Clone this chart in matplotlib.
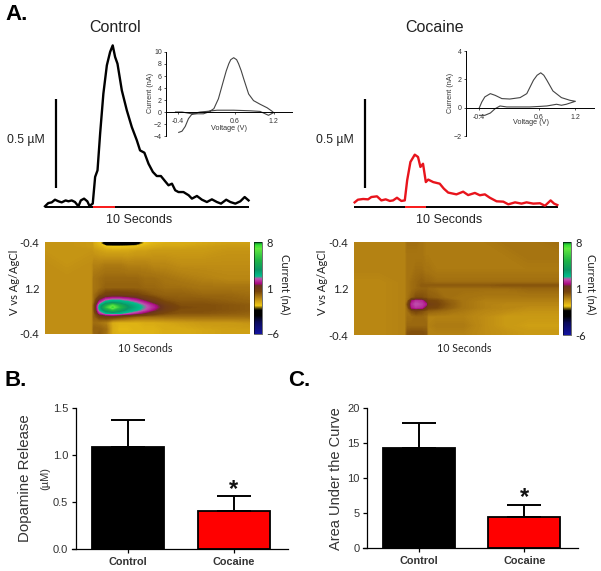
import numpy as np
import matplotlib
matplotlib.use('Agg')
import matplotlib.pyplot as plt
from matplotlib.colors import LinearSegmentedColormap, Normalize
from matplotlib.cm import ScalarMappable

W, H = 601, 571
plt.rcParams['font.family'] = ['Liberation Sans', 'DejaVu Sans']

# dopamine traces, seconds vs uM
ctrl_t = [0, 1.5, 3.1, 4.6, 6.2, 7.7, 9.5, 10.8, 12.3, 13.8, 15.4, 16.5, 18, 19.5, 20.5, 22, 23.1, 24.2,
          25.4, 26.9, 28.5, 30, 31.2, 32.3, 33.4, 35.4, 37.7, 40, 42.3, 43.8, 45.8, 47.7, 49.7, 51.5, 53.4,
          55.4, 56.9, 58.5, 60, 61.5, 63.8, 66.2, 67.7, 70, 72.3, 74.6, 76.9, 79.2, 81.1, 83.5, 85.4, 87.7,
          90, 92, 93.8]
ctrl_um = [.004, .022, .026, .041, .032, .026, .037, .032, .037, .028, .004, .037, .047, .032, .006, .019,
           .169, .206, .412, .637, .796, .871, .908, .843, .805, .655, .543, .449, .375, .318, .305, .243,
           .197, .174, .174, .144, .122, .131, .094, .084, .084, .066, .047, .062, .041, .028, .043, .028,
           .019, .041, .028, .019, .032, .056, .037]
coc_t = [.3, 1.8, 4.2, 6.5, 8, 10.6, 12.6, 14.6, 16.5, 18, 19.8, 21.8, 23.4, 24.5, 26, 28, 29.5, 30.6, 31.8,
         33.1, 34.2, 36.5, 39.5, 41.4, 43.4, 47.2, 50.3, 52.6, 55.7, 58, 60.3, 62.6, 65.7, 68.8, 71.1, 74.2,
         77.2, 79.5, 82.6, 85.7, 88, 90.6, 92.2, 93.7]
coc_um = [.026, .041, .045, .043, .056, .06, .037, .043, .034, .037, .052, .034, .037, .15, .253, .294, .281,
          .225, .243, .14, .154, .14, .131, .103, .081, .071, .086, .067, .079, .066, .071, .052, .032, .03,
          .015, .026, .019, .026, .019, .021, .007, .037, .019, .011]
trace_end = 94
ctrl_stim = [22.3, 32.3]
coc_stim = [23.7, 33]
ctrl_scale_t, coc_scale_t = 5, 5
scale_um = [.109, .609]

# inset voltammograms, volts vs nA
ctrl_cv_v = [-.26, -.21, -.16, -.11, -.06, .02, .12, .2, .28, .35, .43, .47, .51, .54, .585, .63, .66, .70, .74,
             .815, .89, .99, 1.1, 1.17, 1.2, 1.12, 1.07, .99, .84, .585, .33, .17, .07, -.06, -.21, -.31]
ctrl_cv_na = [-3.4, -3.2, -2.4, -1.1, -.4, -.3, -.3, 0, .55, 2.2, 5.3, 6.83, 8.05, 8.72, 9.05, 8.72, 8.05, 6.9, 5.5,
              3, 1.9, 1.3, .7, .17, -.1, -.55, -.3, .1, .2, .3, .3, .1, 0, -.3, 0, 0]
coc_cv_v = [-.38, -.34, -.29, -.2, -.12, -.01, .12, .29, .4, .51, .57, .63, .68, .73, .83, .97, 1.11, 1.2, 1.05,
            .97, .89, .73, .62, .45, .23, .07, -.04, -.12, -.2, -.29, -.38]
coc_cv_na = [0, .4, .76, .99, .87, .64, .61, .71, .99, 1.94, 2.29, 2.46, 2.29, 1.94, 1.18, .71, .52, .45, .24,
             .17, .24, .12, .09, .05, .05, .05, .12, -.07, -.38, -.54, -.54]

# colour plots, current in nA on (sweep position, seconds)
ctrl_map_t = [0, 10, 21.5, 22.5, 25, 28, 31, 34, 38, 42, 46, 50, 55, 62, 72, 84, 94]
ctrl_map_s = [0, .05, .1, .2, .5, .8, 1.0, 1.15, 1.25, 1.32, 1.38, 1.42, 1.47, 1.54, 1.62, 1.75, 1.9, 2]
ctrl_map_na = [
    [-.8, -.8, -.9, -1.2, -1.5, -3, -3.2, -3.2, -3.2, -3, -1.6, -1.3, -1.3, -1.2, -1.1, -1, -1],
    [-.8, -.8, -.9, -1.2, -1.4, -3, -3.2, -3.2, -3, -2.6, -1.5, -1.3, -1.2, -1.2, -1.1, -1, -1],
    [-.8, -.8, -.9, -1.1, -1.3, -1.6, -1.7, -1.7, -1.6, -1.5, -1.3, -1.2, -1.1, -1.1, -1, -.9, -.9],
    [-.8, -.8, -.8, -.9, -1, -1.1, -1.1, -1.1, -1.1, -1, -1, -.9, -.9, -.9, -.9, -.8, -.8],
    [-.7, -.8, -.7, -.5, -.5, -.4, -.4, -.4, -.5, -.5, -.5, -.6, -.6, -.7, -.7, -.7, -.7],
    [-.7, -.7, -.7, -.3, -.2, -.1, -.1, -.1, -.1, -.1, -.2, -.2, -.3, -.4, -.5, -.6, -.6],
    [-.7, -.7, -.7, -.3, -.2, 0, 0, 0, 0, 0, -.1, -.1, -.2, -.2, -.3, -.3, -.3],
    [-.7, -.7, -.7, -.2, .2, .6, .7, .7, .6, .5, .3, .1, 0, 0, -.1, -.1, -.2],
    [-.7, -.7, -.7, -.2, 1.2, 2.1, 2.4, 2.4, 2.1, 1.7, 1, .6, .2, .1, .1, 0, -.1],
    [-.7, -.7, -.7, -.1, 2, 3.2, 3.6, 3.4, 3, 2.5, 1.9, 1.1, .5, .2, .2, .1, 0],
    [-.7, -.7, -.7, .2, 2.8, 4.8, 6.5, 5, 3.6, 3, 2.4, 1.8, .8, .3, .3, .2, .1],
    [-.7, -.7, -.7, .2, 3, 5.5, 7.5, 5.5, 3.8, 3.1, 2.5, 1.9, .9, .4, .3, .2, .1],
    [-.7, -.7, -.7, .2, 2.8, 4.5, 5.5, 4.5, 3.4, 2.9, 2.3, 1.6, .8, .3, .3, .2, .1],
    [-.7, -.7, -.7, 0, 2, 2.9, 3.2, 3, 2.5, 2, 1.4, .8, .4, .2, .2, .1, 0],
    [-.7, -.7, -.7, 0, .5, .7, .7, .5, .2, -.1, -.2, -.2, -.2, -.2, -.2, -.2, -.2],
    [-.7, -.7, -.7, -.2, -.3, -.5, -1.2, -1.3, -1.3, -1.3, -1.2, -1.2, -1.1, -1, -.9, -.9, -.8],
    [-.7, -.7, -.7, 0, 0, -.2, -1.2, -1.4, -1.4, -1.3, -1.3, -1.3, -1.2, -1.2, -1.1, -1, -1],
    [-.7, -.7, -.7, -.1, .1, -.3, -1.2, -1.3, -1.3, -1.3, -1.3, -1.3, -1.2, -1.2, -1.1, -1, -1],
]
coc_map_t = [0, 12, 23.5, 24.5, 26.5, 28.5, 31, 33, 34, 38, 42, 50, 60, 70, 80, 94]
coc_map_s = [0, .3, .6, .86, .93, 1.0, 1.2, 1.27, 1.34, 1.41, 1.48, 1.6, 1.8, 1.95, 2]
coc_map_na = [
    [-.5, -.5, -.5, -.2, -.2, -.2, -.3, -.4, -.4, -.4, -.4, -.4, -.4, -.3, -.3, -.2],
    [-.5, -.5, -.5, -.3, -.3, -.3, -.3, -.4, -.4, -.4, -.4, -.4, -.4, -.4, -.3, -.3],
    [-.5, -.5, -.5, -.3, -.3, -.2, -.2, -.3, -.3, -.4, -.4, -.4, -.4, -.4, -.4, -.4],
    [-.6, -.6, -.5, -.3, -.2, -.1, 0, -.1, -.1, -.2, -.2, -.2, -.2, -.2, -.2, -.2],
    [-.6, -.6, -.5, -.3, -.2, -.1, .1, .1, .1, .1, .1, .1, .1, .2, .2, .2],
    [-.6, -.6, -.5, -.3, -.2, -.1, 0, 0, -.1, -.2, -.2, -.2, -.2, -.2, -.1, -.1],
    [-.6, -.6, -.5, -.3, 0, .3, .3, .2, .1, 0, -.2, -.3, -.4, -.4, -.4, -.4],
    [-.6, -.6, -.5, -.2, 1.6, 2.1, 2, 1, .5, .4, .1, -.3, -.5, -.5, -.5, -.5],
    [-.6, -.6, -.5, .2, 2, 2.35, 2.2, 1.8, .8, .5, .2, -.3, -.5, -.6, -.6, -.6],
    [-.6, -.6, -.5, -.1, 1.8, 2.1, 2, 1, .5, .4, .1, -.3, -.5, -.6, -.7, -.7],
    [-.6, -.6, -.5, -.2, .3, .5, .3, .1, 0, -.1, -.2, -.4, -.6, -.7, -.8, -.8],
    [-.6, -.6, -.5, -.2, -.2, -.1, -.1, -.2, -.5, -.5, -.5, -.5, -.7, -.9, -.9, -.9],
    [-.6, -.6, -.5, -.1, -.1, -.1, -.1, -.1, -.5, -.4, -.4, -.4, -.7, -.9, -1, -1],
    [-.6, -.6, -.5, .2, .3, .3, .3, .2, -.5, -.5, -.5, -.5, -.7, -.8, -.9, -.9],
    [-.6, -.6, -.5, .2, .3, .3, .3, .2, -.5, -.5, -.5, -.5, -.7, -.8, -.9, -.9],
]

# bar panels
groups = ['Control', 'Cocaine']
bar_colors = ['black', '#ff0000']
release_mean = [1.09, 0.40]
release_err = [0.28, 0.167]
auc_mean = [14.3, 4.4]
auc_err = [3.6, 1.75]

# false colour map used by the voltammetry plots
cmap_stops = [(0, '#006428'), (.03, '#30e030'), (.07, '#60e840'), (.2, '#1eb446'), (.3, '#0a9664'),
              (.37, '#00be8c'), (.385, '#6a8a96'), (.40, '#c050b0'), (.45, '#aa0a82'), (.475, '#6a3420'),
              (.54, '#78460a'), (.62, '#be8c14'), (.69, '#f0c814'), (.74, '#000000'), (.8, '#000000'),
              (.87, '#0a0a5a'), (1, '#1414a0')]
fscv_cmap = LinearSegmentedColormap.from_list('fscv', [(1 - f, c) for f, c in reversed(cmap_stops)], N=512)
fscv_norm = Normalize(-6, 8)


fig = plt.figure(figsize=(W / 100, H / 100), dpi=100)


def px_axes(left, top, right, bottom):
    return fig.add_axes([left / W, 1 - bottom / H, (right - left) / W, (bottom - top) / H])


def px_text(x, y, s, **kw):
    kw.setdefault('ha', 'center')
    kw.setdefault('va', 'center')
    fig.text(x / W, 1 - y / H, s, **kw)


def draw_trace(box, t, um, color, stim, scale_t):
    ax = px_axes(*box)
    ax.plot([0, trace_end], [0, 0], color='black', lw=1.4, clip_on=False, solid_capstyle='butt')
    ax.plot(stim, [0, 0], color='#ff2020', lw=1.4, clip_on=False, solid_capstyle='butt')
    ax.plot(t, um, color=color, lw=1.7, clip_on=False, solid_joinstyle='round')
    ax.plot([scale_t, scale_t], scale_um, color='black', lw=1.6, solid_capstyle='butt')
    ax.set_xlim(0, trace_end)
    ax.set_ylim(0, 1)
    ax.axis('off')


def draw_inset(box, v, na, xlim, ylim, xticks, xlabels, yticks):
    ax = px_axes(*box)
    ax.plot(v, na, color='#444444', lw=0.8, clip_on=False)
    ax.set_xlim(*xlim)
    ax.set_ylim(*ylim)
    for s in ['top', 'right']:
        ax.spines[s].set_visible(False)
    ax.spines['bottom'].set_position(('data', 0))
    ax.spines['bottom'].set_linewidth(0.7)
    ax.spines['left'].set_linewidth(0.7)
    ax.set_xticks(xticks)
    ax.set_xticklabels(xlabels)
    ax.set_yticks(yticks)
    ax.tick_params(axis='both', labelsize=5, length=1.5, width=0.6, pad=1.5, colors='#333333')
    ax.tick_params(axis='x', pad=3)


def draw_map(box, cbar_box, t, s, na):
    ax = px_axes(*box)
    ax.contourf(t, s, na, levels=np.linspace(-6, 8, 561), cmap=fscv_cmap, norm=fscv_norm)
    ax.set_xlim(0, trace_end)
    ax.set_ylim(2, 0)
    ax.set_xticks([])
    ax.set_yticks([0, 1, 2])
    ax.set_yticklabels(['-0.4', '1.2', '-0.4'], fontfamily='Lato', fontsize=8)
    ax.tick_params(axis='y', length=0, pad=4, colors='#222222')
    for sp in ax.spines.values():
        sp.set_visible(False)
    cax = px_axes(*cbar_box)
    cb = fig.colorbar(ScalarMappable(norm=fscv_norm, cmap=fscv_cmap), cax=cax, ticks=[8, 1, -6])
    cb.outline.set_linewidth(0.4)
    cb.ax.set_yticklabels(['8', '1', '-6'], fontfamily='Lato', fontsize=8)
    cb.ax.tick_params(length=0, pad=3, colors='#222222')


def draw_bars(box, means, errs, ylim, yticks, yticklabels, star_y):
    ax = px_axes(*box)
    x = np.arange(len(groups))
    ax.bar(x, means, width=0.68, color=bar_colors, edgecolor='black', linewidth=1.3)
    ax.errorbar(x, means, yerr=[[0, 0], errs], fmt='none', ecolor='black', elinewidth=1.4,
                capsize=12.5, capthick=1.4)
    ax.text(1, star_y, '*', ha='center', va='center', fontsize=17, fontweight='bold', color='#111111')
    ax.set_xlim(-.49, 1.51)
    ax.set_ylim(*ylim)
    ax.set_xticks(x)
    ax.set_xticklabels(groups, fontsize=7.8, fontweight='bold', color='#333333')
    ax.set_yticks(yticks)
    ax.set_yticklabels(yticklabels, fontsize=8, color='#333333')
    ax.tick_params(axis='both', length=3, width=0.9, pad=2.5)
    ax.tick_params(axis='x', pad=2.5)
    for s in ['top', 'right']:
        ax.spines[s].set_visible(False)
    ax.spines['left'].set_linewidth(0.9)
    ax.spines['bottom'].set_linewidth(0.9)
    ax.spines['bottom'].set_bounds(-.53, 1.51)


# Panel A traces
draw_trace((45, 29, 249, 207), ctrl_t, ctrl_um, 'black', ctrl_stim, ctrl_scale_t)
draw_trace((354, 29, 558, 207), coc_t, coc_um, '#e8141c', coc_stim, coc_scale_t)
draw_inset((166, 52, 292, 136), ctrl_cv_v, ctrl_cv_na, (-.456, 1.482), (-4, 10),
           [-.27, .6, 1.2], ['-0.4', '0.6', '1.2'], [-4, -2, 0, 2, 4, 6, 8, 10])
draw_inset((466, 51, 594, 136), coc_cv_v, coc_cv_na, (-.6, 1.506), (-2, 4),
           [-.39, .6, 1.2], ['-0.4', '0.6', '1.2'], [-2, 0, 2, 4])

# Panel A colour plots
draw_map((45, 242, 250, 334), (254, 242, 262, 334), ctrl_map_t, ctrl_map_s, ctrl_map_na)
draw_map((354, 242, 559, 335), (563, 242, 571, 335), coc_map_t, coc_map_s, coc_map_na)

# Panels B and C
draw_bars((76, 408, 288, 549), release_mean, release_err, (0, 1.5), [0, .5, 1, 1.5],
          ['0.0', '0.5', '1.0', '1.5'], 0.63)
draw_bars((367, 408, 578, 548), auc_mean, auc_err, (0, 20), [0, 5, 10, 15, 20],
          ['0', '5', '10', '15', '20'], 7.2)

# free labels
px_text(5, 14, 'A.', ha='left', fontsize=16, fontweight='bold')
px_text(5, 380, 'B.', ha='left', fontsize=16, fontweight='bold')
px_text(288, 380, 'C.', ha='left', fontsize=16, fontweight='bold')
px_text(115, 27, 'Control', fontsize=11.5, color='#222222')
px_text(435, 27, 'Cocaine', fontsize=11.5, color='#222222')
px_text(26, 140, '0.5 µM', fontsize=8.8, color='#222222')
px_text(335, 140, '0.5 µM', fontsize=8.8, color='#222222')
px_text(139, 220, '10 Seconds', fontsize=9, color='#222222')
px_text(449, 220, '10 Seconds', fontsize=9, color='#222222')

px_text(229, 128, 'Voltage (V)', fontsize=5.2, color='#333333')
px_text(151, 93, 'Current (nA)', fontsize=5.2, rotation=90, color='#333333')
px_text(531, 123, 'Voltage (V)', fontsize=5.2, color='#333333')
px_text(451, 93, 'Current (nA)', fontsize=5.2, rotation=90, color='#333333')

px_text(15, 282, 'V vs Ag/AgCl', fontsize=8, rotation=90, fontfamily='Lato', color='#222222')
px_text(322, 282, 'V vs Ag/AgCl', fontsize=8, rotation=90, fontfamily='Lato', color='#222222')
px_text(145, 349, '10 Seconds', fontsize=7.7, fontfamily='Lato', color='#222222')
px_text(464, 349, '10 Seconds', fontsize=7.7, fontfamily='Lato', color='#222222')
px_text(285, 284, 'Current (nA)', fontsize=8, rotation=270, fontfamily='Lato', color='#222222')
px_text(591, 284, 'Current (nA)', fontsize=8, rotation=270, fontfamily='Lato', color='#222222')

px_text(25, 478, 'Dopamine Release', fontsize=10.8, rotation=90, color='#333333')
px_text(45, 478, '(µM)', fontsize=8, rotation=90, color='#333333')
px_text(336, 479, 'Area Under the Curve', fontsize=10.5, rotation=90, color='#333333')

fig.savefig('out.png', dpi=100)
